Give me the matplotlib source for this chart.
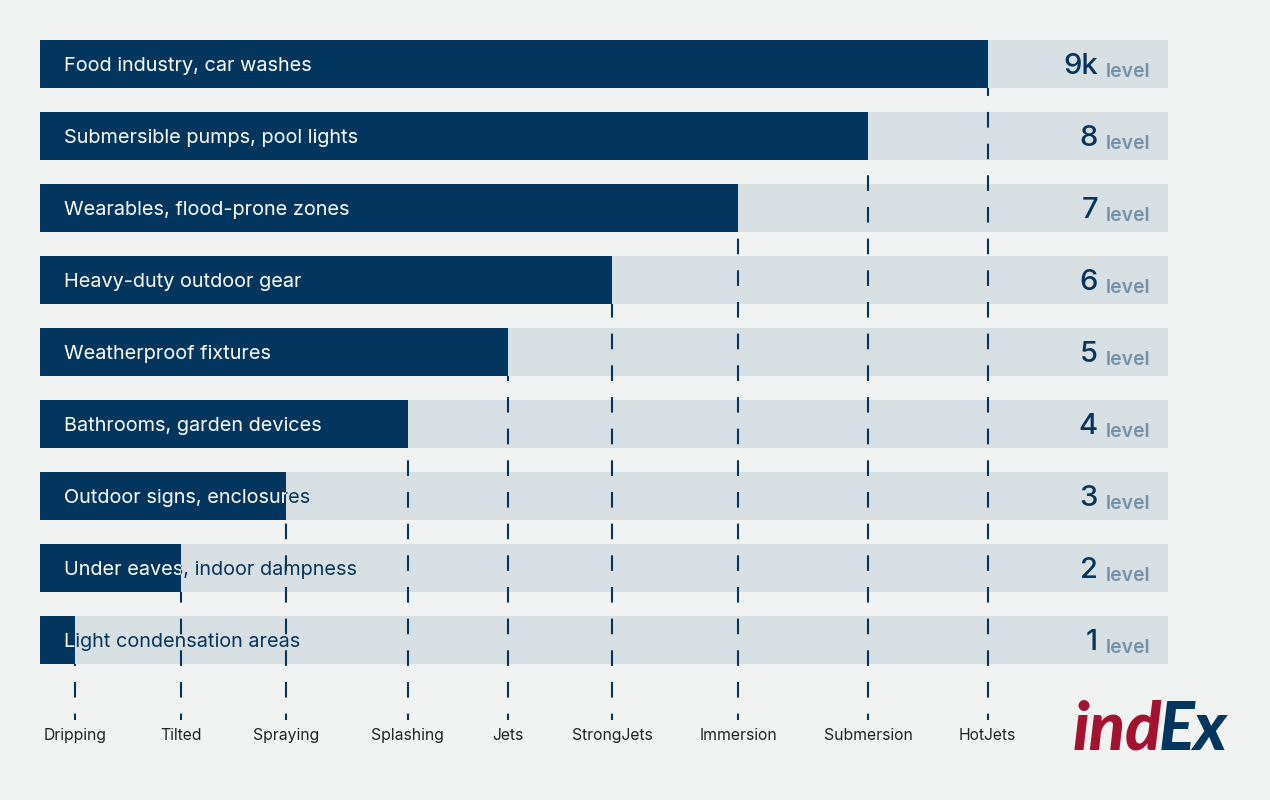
import matplotlib
matplotlib.use('Agg')
from matplotlib import pyplot as plt
from matplotlib.patches import Rectangle

# data, level 1 first
levels = ['1', '2', '3', '4', '5', '6', '7', '8', '9k']
uses = ['Light condensation areas', 'Under eaves, indoor dampness',
        'Outdoor signs, enclosures', 'Bathrooms, garden devices',
        'Weatherproof fixtures', 'Heavy-duty outdoor gear',
        'Wearables, flood-prone zones', 'Submersible pumps, pool lights',
        'Food industry, car washes']
names = ['Dripping', 'Tilted', 'Spraying', 'Splashing', 'Jets',
         'StrongJets', 'Immersion', 'Submersion', 'HotJets']
scores = [3.1, 12.5, 21.8, 32.6, 41.5, 50.7, 61.9, 73.4, 84.0]

DARK = '#03365f'
TRACK = '#d8dfe3'
BG = '#f1f2f2'
GREY = '#7590aa'
RED = '#a3132f'

plt.rcParams['font.family'] = ['Inter', 'DejaVu Sans']

fig = plt.figure(figsize=(12.7, 8), dpi=100, facecolor=BG)
ax = fig.add_axes([40 / 1270, 1 - 676 / 800, 1128 / 1270, 648 / 800])
ax.set_facecolor(BG)
ax.set_xlim(0, 100)
ax.set_ylim(-0.5, 8.5)
ax.axis('off')

h = 48 / 72
line_bottom = -0.5 - 44 / 72
label_y = -0.5 - 64 / 72
lw = 1.5
dash_on, dash_off = 7.5, 7.7  # in linewidths
period_px = (dash_on + dash_off) * lw / 0.72

n = len(levels)
for i, (lvl, use, name, val) in enumerate(zip(levels, uses, names, scores)):
    track = Rectangle((0, i - h / 2), 100, h, facecolor=TRACK, edgecolor='none', zorder=1)
    ax.add_patch(track)
    bar = Rectangle((0, i - h / 2), val, h, facecolor=DARK, edgecolor='none', zorder=3)
    ax.add_patch(bar)

    # dashed marker from bar end down to the label, same dash phase for all
    start_px = 88 + 72 * (n - 1 - i)
    off = ((start_px - 80.3) % period_px) * 0.72 / lw
    ax.plot([val, val], [i - h / 2, line_bottom], color=DARK, lw=lw,
            linestyle=(off, (dash_on, dash_off)), zorder=2, clip_on=False)
    ax.text(val, label_y, name, ha='center', va='baseline', fontsize=11.3,
            color='#222222', clip_on=False)

    # label: dark on track, white on bar
    t1 = ax.text(2.13, i - 0.03, use, ha='left', va='center', fontsize=14.3,
                 color=DARK, zorder=4, clip_on=True)
    t1.set_clip_path(track)
    t2 = ax.text(2.13, i - 0.03, use, ha='left', va='center', fontsize=14.3,
                 color='white', zorder=5, clip_on=True)
    t2.set_clip_path(bar)

    ax.text(93.8, i - 10 / 72, lvl, ha='right', va='baseline', fontsize=21,
            fontweight='medium', color=DARK, zorder=5)
    ax.text(94.5, i - 13 / 72, 'level', ha='left', va='baseline', fontsize=14,
            fontweight='semibold', color=GREY, zorder=5)

# logo
fig.text(1162 / 1270, 1 - 750 / 800, 'ind', ha='right', va='baseline',
         fontsize=48, fontweight='black', style='italic', color=RED,
         family=['Lato', 'DejaVu Sans'])
fig.text(1159 / 1270, 1 - 750 / 800, 'Ex', ha='left', va='baseline',
         fontsize=48, fontweight='black', style='italic', color=DARK,
         family=['Lato', 'DejaVu Sans'])

fig.savefig('out.png', dpi=100, facecolor=BG)
